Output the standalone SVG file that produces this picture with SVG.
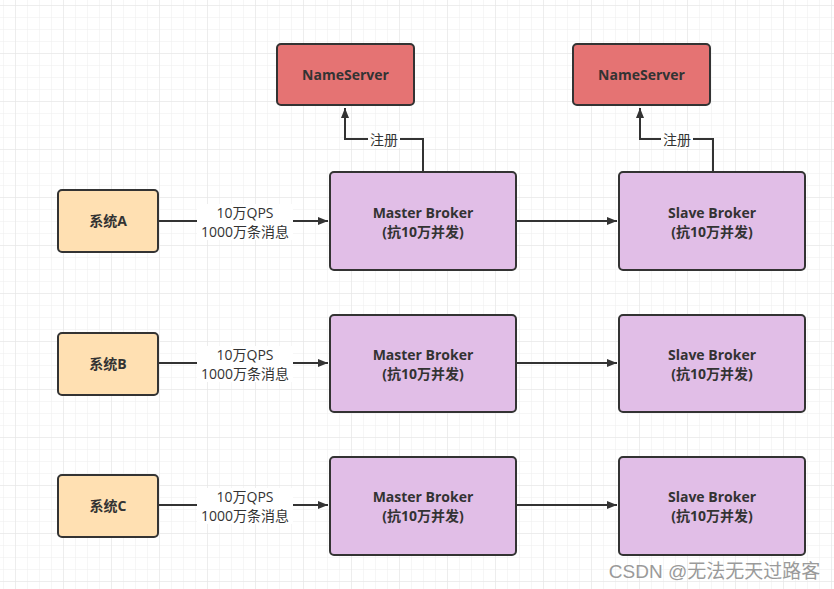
<svg xmlns="http://www.w3.org/2000/svg" width="834" height="589" viewBox="0 0 834 589">
<defs>
<pattern id="minor" x="3" y="5" width="12" height="12" patternUnits="userSpaceOnUse">
<path d="M0 0H12M0 0V12" fill="none" stroke="#ededed" stroke-width="1"/>
</pattern>
<pattern id="major" x="15" y="5" width="48" height="48" patternUnits="userSpaceOnUse">
<path d="M0 0H48M0 0V48" fill="none" stroke="#e4e4e4" stroke-width="1"/>
</pattern>
<marker id="arr" viewBox="0 0 10 10" refX="10" refY="5" markerWidth="10" markerHeight="10" markerUnits="userSpaceOnUse" orient="auto">
<path d="M0 1L10 5L0 9Z" fill="#333"/>
</marker>
<style>
.box{stroke:#333;stroke-width:2}
.ns{fill:#e57373}
.sys{fill:#ffe0b2}
.brk{fill:#e1bee7}
.t{font-family:"Open Sans","Noto Sans CJK SC",sans-serif;font-weight:bold;font-size:14px;fill:#333;text-anchor:middle}
.l{font-family:"Open Sans","Noto Sans CJK SC",sans-serif;font-size:14px;fill:#333;text-anchor:middle}
.c{fill:none;stroke:#333;stroke-width:2}
</style>
</defs>
<rect width="834" height="589" fill="#fff"/>
<rect width="834" height="589" fill="url(#minor)"/>
<rect width="834" height="589" fill="url(#major)"/>

<g id="connectors">
<path class="c" d="M423 172V139H345V108" marker-end="url(#arr)"/>
<path class="c" d="M713 172V139H640V108" marker-end="url(#arr)"/>
<path class="c" d="M158 221H328" marker-end="url(#arr)"/>
<path class="c" d="M158 363H328" marker-end="url(#arr)"/>
<path class="c" d="M158 505H328" marker-end="url(#arr)"/>
<path class="c" d="M516 221H617" marker-end="url(#arr)"/>
<path class="c" d="M516 363H617" marker-end="url(#arr)"/>
<path class="c" d="M516 505H617" marker-end="url(#arr)"/>
<rect x="368" y="131" width="32" height="17" fill="#fff"/>
<text class="l" x="384" y="145">注册</text>
<rect x="661" y="131" width="32" height="17" fill="#fff"/>
<text class="l" x="677" y="145">注册</text>
<rect x="197" y="204" width="96" height="36" fill="#fff"/>
<text class="l" x="245" y="218">10万QPS</text>
<text class="l" x="245" y="237">1000万条消息</text>
<rect x="197" y="346" width="96" height="36" fill="#fff"/>
<text class="l" x="245" y="360">10万QPS</text>
<text class="l" x="245" y="379">1000万条消息</text>
<rect x="197" y="488" width="96" height="36" fill="#fff"/>
<text class="l" x="245" y="502">10万QPS</text>
<text class="l" x="245" y="521">1000万条消息</text>
</g>

<g id="ns1"><rect class="box ns" x="277" y="44" width="137" height="61" rx="4"/><text class="t" x="345.5" y="80">NameServer</text></g>
<g id="ns2"><rect class="box ns" x="573" y="44" width="137" height="61" rx="4"/><text class="t" x="641.5" y="80">NameServer</text></g>

<g id="sysA"><rect class="box sys" x="58" y="190" width="100" height="62" rx="4"/><text class="t" x="108" y="226">系统A</text></g>
<g id="sysB"><rect class="box sys" x="58" y="333" width="100" height="62" rx="4"/><text class="t" x="108" y="369">系统B</text></g>
<g id="sysC"><rect class="box sys" x="58" y="475" width="100" height="62" rx="4"/><text class="t" x="108" y="511">系统C</text></g>

<g id="masterA"><rect class="box brk" x="330" y="172" width="186" height="98" rx="4"/><text class="t" x="423" y="218">Master Broker</text><text class="t" x="423" y="237">(抗10万并发)</text></g>
<g id="masterB"><rect class="box brk" x="330" y="315" width="186" height="97" rx="4"/><text class="t" x="423" y="360">Master Broker</text><text class="t" x="423" y="379">(抗10万并发)</text></g>
<g id="masterC"><rect class="box brk" x="330" y="457" width="186" height="98" rx="4"/><text class="t" x="423" y="502">Master Broker</text><text class="t" x="423" y="521">(抗10万并发)</text></g>

<g id="slaveA"><rect class="box brk" x="619" y="172" width="186" height="98" rx="4"/><text class="t" x="712" y="218">Slave Broker</text><text class="t" x="712" y="237">(抗10万并发)</text></g>
<g id="slaveB"><rect class="box brk" x="619" y="315" width="186" height="97" rx="4"/><text class="t" x="712" y="360">Slave Broker</text><text class="t" x="712" y="379">(抗10万并发)</text></g>
<g id="slaveC"><rect class="box brk" x="619" y="457" width="186" height="98" rx="4"/><text class="t" x="712" y="502">Slave Broker</text><text class="t" x="712" y="521">(抗10万并发)</text></g>

<text x="714.5" y="578" font-family="'Liberation Sans','Noto Sans CJK SC',sans-serif" font-size="19" fill="#9a9a9a" text-anchor="middle">CSDN @无法无天过路客</text>
</svg>
